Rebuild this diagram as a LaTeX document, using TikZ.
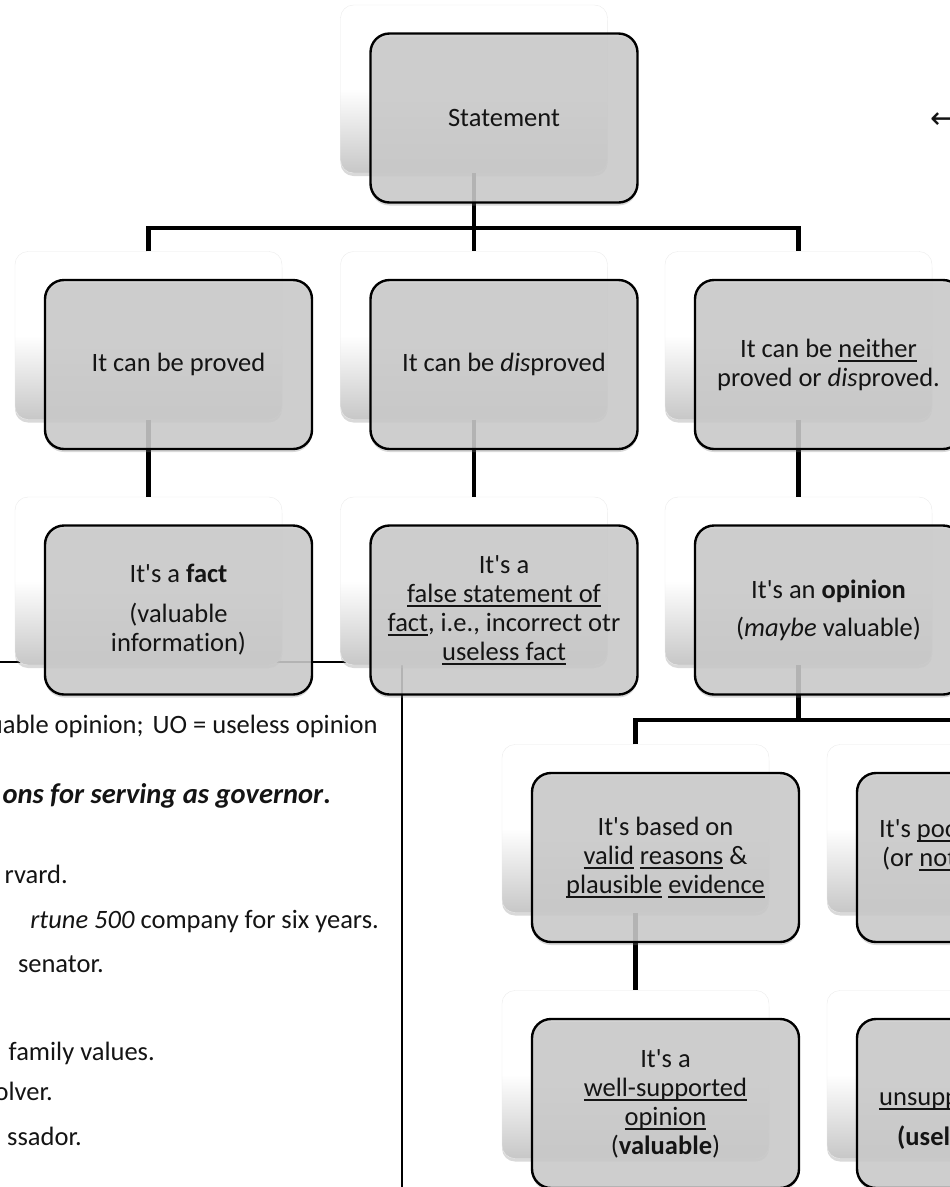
\documentclass[tikz,border=0pt]{standalone}
\usepackage{fontspec}
\newfontfamily\carl{Carlito}[Ligatures=NoCommon]
\newfontfamily\dvs{DejaVu Sans}
\usetikzlibrary{shadows}
\definecolor{frontgray}{RGB}{204,204,204}
\newcommand\myul[1]{\setbox0\hbox{#1}\rlap{\rule[-4.5pt]{\wd0}{1.5pt}}\box0\relax}
\begin{document}
\begin{tikzpicture}[x=1pt,y=-1pt,
  every node/.style={font=\carl\fontsize{26.5}{29}\selectfont, text=black!92},
  backbox/.style={rounded corners=13pt, minimum width=267pt, minimum height=168pt, inner sep=0pt,
    draw=black!8, line width=0.4pt, top color=white, bottom color=black!22, middle color=white,
    drop shadow={shadow xshift=0pt, shadow yshift=-3pt, opacity=0.3}},
  frontbox/.style={rounded corners=19pt, minimum width=267pt, minimum height=169pt, inner sep=0pt,
    align=center, draw=black, line width=2.4pt, fill=frontgray, fill opacity=0.85,
    text opacity=1, draw opacity=1,
    drop shadow={shadow xshift=0pt, shadow yshift=-3pt, opacity=0.3}},
  conn/.style={line width=4.5pt, black},
  tbl/.style={line width=1.5pt, black},
  lt/.style={anchor=base east, inner sep=0pt},
  rt/.style={anchor=base west, inner sep=0pt}
]
\useasboundingbox (0,0) rectangle (950,1187);
\clip (0,0) rectangle (950,1187);

% table border behind the chart
\coordinate (t0) at (0,662);
\coordinate (t1) at (402,662);
\coordinate (t2) at (402,1190);
\draw[tbl] (t0) -- (t1) -- (t2);

% text on the page
\node[lt] (l1) at (378,733) {uable opinion;\hspace{9pt}UO = useless opinion};
\node[lt, font=\carl\fontsize{28.5}{30}\selectfont] (l2) at (331,803) {\textbf{\textit{ons for serving as governor}.}};
\node[lt] (l3) at (68,883) {rvard.};
\node[lt] (l4) at (379,928) {\textit{rtune 500} company for six years.};
\node[lt] (l5) at (104,972) {senator.};
\node[lt] (l6) at (155,1060) {family values.};
\node[lt] (l7) at (53,1100) {olver.};
\node[lt] (l8) at (82,1145) {ssador.};
\node[anchor=west, inner sep=0pt, font=\dvs\fontsize{30}{30}\selectfont] (arr) at (930,121) {←};

% back boxes
\node[backbox] (bS) at (474,89) {};
\node[backbox] (b1) at (148.5,335.5) {};
\node[backbox] (b2) at (474,335.5) {};
\node[backbox] (b3) at (798.5,335.5) {};
\node[backbox] (b4) at (148.5,581) {};
\node[backbox] (b5) at (474,581) {};
\node[backbox] (b6) at (798.5,581) {};
\node[backbox] (b7) at (635.5,828.5) {};
\node[backbox] (b8) at (960.5,828.5) {};
\node[backbox] (b9) at (635.5,1074.5) {};
\node[backbox] (b10) at (960.5,1074.5) {};

% connectors
\coordinate (j1) at (474,228);
\coordinate (j2) at (798.5,720);
\draw[conn] (bS.south) -- (j1);
\draw[conn] (b1.north) |- (j1) -| (b3.north);
\draw[conn] (j1) -- (b2.north);
\draw[conn] (b1.south) -- (b4.north);
\draw[conn] (b2.south) -- (b5.north);
\draw[conn] (b3.south) -- (b6.north);
\draw[conn] (b6.south) -- (j2);
\draw[conn] (b7.north) |- (j2) -| (b8.north);
\draw[conn] (b7.south) -- (b9.north);
\draw[conn] (b8.south) -- (b10.north);

% front boxes
\node[frontbox] (fS) at (504,118) {Statement};
\node[frontbox] (f1) at (178.5,364.5) {It can be proved};
\node[frontbox] (f2) at (504,364.5) {It can be \textit{dis}proved};
\node[frontbox] (f3) at (828.5,364.5) {It can be \myul{neither}\\proved or \textit{dis}proved.};
\node[frontbox] (f4) at (178.5,610) {It's a \textbf{fact}\\[11pt](valuable\\information)};
\node[frontbox] (f5) at (504,610) {It's a\\\myul{false statement of}\\\myul{fact}, i.e., incorrect otr\\\myul{useless fact}};
\node[frontbox] (f6) at (828.5,610) {It's an \textbf{opinion}\\[9pt](\textit{maybe} valuable)};
\node[frontbox] (f7) at (665.5,857.5) {It's based on\\\myul{valid} \myul{reasons} \&\\\myul{plausible} \myul{evidence}};
\node[frontbox] (f8) at (990.5,857.5) {};
\node[frontbox] (f9) at (665.5,1103.5) {It's a\\\myul{well-supported}\\\myul{opinion}\\(\textbf{valuable})};
\node[frontbox] (f10) at (990.5,1103.5) {};

% visible parts of the cut-off texts
\node[rt] (r1) at (879,837) {It's \myul{poo}};
\node[rt] (r2) at (882,866) {(or \myul{not}};
\node[rt] (r3) at (879,1105) {\myul{unsupp}};
\node[rt] (r4) at (897,1145) {\textbf{(usel}};
\end{tikzpicture}
\end{document}
